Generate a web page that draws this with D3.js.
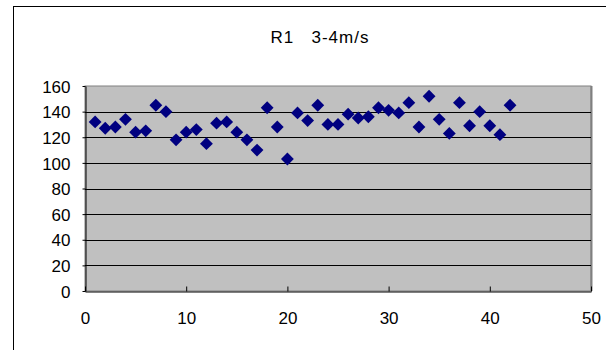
<!DOCTYPE html>
<html lang="en">
<head>
<meta charset="utf-8">
<title>R1 3-4m/s</title>
<style>
  body { margin: 0; background: #fff; }
  text { font-family: "Liberation Sans", Arial, sans-serif; }
</style>
</head>
<body>
<div id="chart"></div>
<script src="https://cdn.jsdelivr.net/npm/d3@7/dist/d3.min.js"></script>
<script>
// values
var xs = [1, 2, 3, 4, 5, 6, 7, 8, 9, 10, 11, 12, 13, 14, 15, 16, 17, 18, 19, 20, 21,
          22, 23, 24, 25, 26, 27, 28, 29, 30, 31, 32, 33, 34, 35, 36, 37, 38, 39, 40, 41, 42];
var ys = [132, 127, 128, 134, 124, 125, 145, 140, 118, 124, 126, 115, 131, 132, 124, 118, 110, 143, 128, 103, 139,
          133, 145, 130, 130, 138, 135, 136, 143, 141, 139, 147, 128, 152, 134, 123, 147, 129, 140, 129, 122, 145];
var xTicks = [0, 10, 20, 30, 40, 50];
var yTicks = [0, 20, 40, 60, 80, 100, 120, 140, 160];
var title = "R1   3-4m/s";

var W = 606, H = 350;
var plotL = 85, plotR = 591, plotT = 86, plotB = 291;

var svg = d3.select("#chart").append("svg")
    .attr("width", W).attr("height", H);

// outer chart frame (runs off the canvas on the right and bottom)
svg.append("rect")
    .attr("x", 13.5).attr("y", 6.5)
    .attr("width", 800).attr("height", 600)
    .attr("fill", "#fff").attr("stroke", "#000");

var x = d3.scaleLinear().domain([0, 50]).range([plotL, plotR]);
var y = d3.scaleLinear().domain([0, 160]).range([plotB, plotT]);

// plot area
svg.append("rect")
    .attr("x", plotL).attr("y", plotT)
    .attr("width", plotR - plotL).attr("height", plotB - plotT)
    .attr("fill", "#c0c0c0").attr("stroke", "#808080");
svg.append("line")
    .attr("x1", plotR + 0.5).attr("x2", plotR + 0.5)
    .attr("y1", plotT).attr("y2", plotB)
    .attr("stroke", "#808080").attr("stroke-width", 2);

// gridlines
svg.append("g")
    .selectAll("line")
    .data(yTicks.slice(1, -1))
    .enter().append("line")
    .attr("x1", plotL).attr("x2", plotR)
    .attr("y1", function(d) { return Math.round(y(d)) + 0.5; })
    .attr("y2", function(d) { return Math.round(y(d)) + 0.5; })
    .attr("stroke", "#000");

// axes
var xAxis = svg.append("g")
    .attr("transform", "translate(0," + (plotB + 0.5) + ")")
    .call(d3.axisBottom(x).tickValues(xTicks).tickSize(-5).tickSizeOuter(0).tickPadding(20));
var yAxis = svg.append("g")
    .attr("transform", "translate(" + (plotL + 0.5) + ",0)")
    .call(d3.axisLeft(y).tickValues(yTicks).tickSize(3).tickSizeOuter(0).tickPadding(12));

[xAxis, yAxis].forEach(function(a) {
    a.selectAll("path, line").attr("stroke", "#000");
    a.selectAll("text")
        .attr("fill", "#000")
        .style("font-size", "17px")
        .style("font-family", "'Liberation Sans', Arial, sans-serif");
});
yAxis.selectAll("text").attr("dy", "0.36em");

// diamonds
svg.append("g")
    .selectAll("path")
    .data(xs)
    .enter().append("path")
    .attr("d", d3.symbol().type(d3.symbolDiamond2).size(105))
    .attr("transform", function(d, i) { return "translate(" + x(d) + "," + y(ys[i]) + ")"; })
    .attr("fill", "#000080");

// title
svg.append("text")
    .attr("x", 320).attr("y", 43)
    .attr("text-anchor", "middle")
    .style("font-size", "17px")
    .style("letter-spacing", "1px")
    .style("white-space", "pre")
    .attr("fill", "#000")
    .text(title);
</script>
</body>
</html>
